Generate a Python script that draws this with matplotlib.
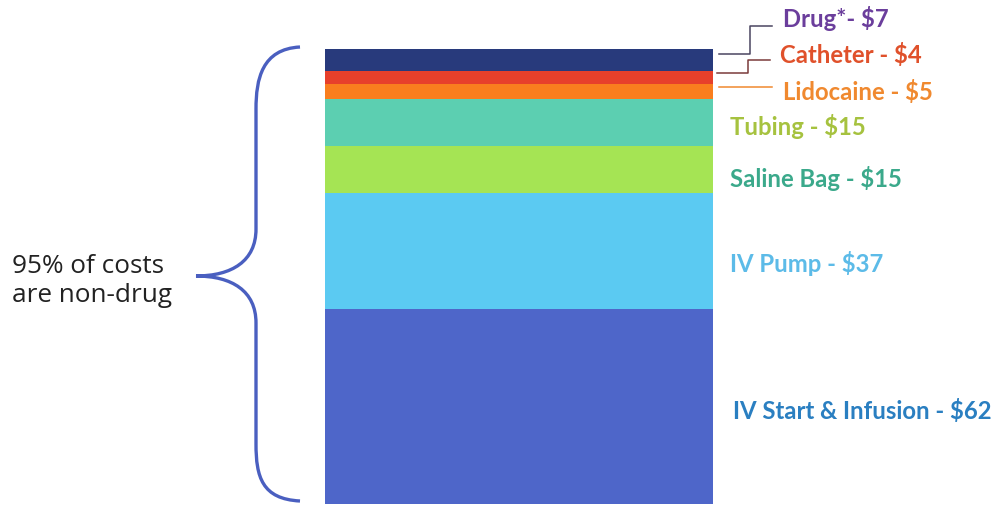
import matplotlib.pyplot as plt
from matplotlib.path import Path
from matplotlib.patches import PathPatch

# cost components, bottom to top
items = ["IV Start & Infusion", "IV Pump", "Saline Bag", "Tubing",
         "Lidocaine", "Catheter", "Drug*"]
costs = [62, 37, 15, 15, 5, 4, 7]
bar_colors = ["#4e66c9", "#5bcaf2", "#a5e454", "#5ccfb1",
              "#f97e1e", "#e7402b", "#283a7c"]
text_colors = ["#2a7fc1", "#5cbbe8", "#3ba98b", "#a6c23f",
               "#f0892f", "#e0512b", "#6b3e9c"]
# label anchor (x, y) in pixels from the top-left corner
label_pos = [(733, 411), (730, 264), (730, 178), (730, 126),
             (783, 92), (780, 55), (783, 18)]

W, H = 1002, 506
fig = plt.figure(figsize=(W / 100, H / 100), dpi=100)

# stacked bar
ax = fig.add_axes([325 / W, 1 / H, 388 / W, 455 / H])
bottom = 0
for c, col in zip(costs, bar_colors):
    ax.bar(0, c, width=1, bottom=bottom, color=col, linewidth=0)
    bottom += c
ax.set_xlim(-0.5, 0.5)
ax.set_ylim(0, sum(costs))
ax.axis("off")

# overlay in pixel coordinates for text, leaders and the brace
ov = fig.add_axes([0, 0, 1, 1], zorder=5)
ov.set_xlim(0, W)
ov.set_ylim(H, 0)
ov.axis("off")
ov.patch.set_alpha(0)

for name, c, tc, (x, y) in zip(items, costs, text_colors, label_pos):
    sep = "- " if name.endswith("*") else " - "
    ov.text(x, y, f"{name}{sep}${c}", color=tc, fontsize=17.2,
            fontweight="bold", family="Lato", va="center", ha="left")

# leader lines for the thin top segments
ov.plot([719, 750, 750, 772], [55, 55, 27, 27], color="#4a4560", lw=1.1)
ov.plot([717, 748, 748, 770], [74, 74, 61, 61], color="#7a3a3a", lw=1.1)
ov.plot([719, 772], [88, 88], color="#f0892f", lw=1.1)

# curly brace
verts = [(300, 48),
         (262, 50), (256, 80), (256, 110),
         (256, 230),
         (256, 262), (232, 277), (196, 277),
         (232, 277), (256, 292), (256, 324),
         (256, 445),
         (256, 478), (262, 500), (300, 502)]
codes = [Path.MOVETO,
         Path.CURVE4, Path.CURVE4, Path.CURVE4,
         Path.LINETO,
         Path.CURVE4, Path.CURVE4, Path.CURVE4,
         Path.CURVE4, Path.CURVE4, Path.CURVE4,
         Path.LINETO,
         Path.CURVE4, Path.CURVE4, Path.CURVE4]
ov.add_patch(PathPatch(Path(verts, codes), facecolor="none",
                       edgecolor="#4a5fc0", lw=2.4))

ov.text(12, 281, "95% of costs\nare non-drug", fontsize=18.8, family="Open Sans",
        color="#222222", va="center", ha="left", linespacing=1.2)

fig.savefig("out.png", dpi=100)
